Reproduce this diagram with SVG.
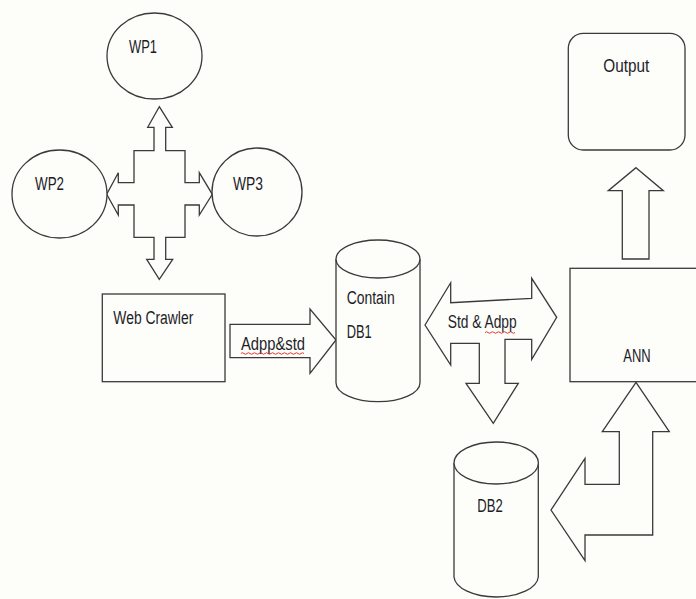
<svg xmlns="http://www.w3.org/2000/svg" width="696" height="599" viewBox="0 0 696 599">
<style>
.s{fill:#fdfdfa;stroke:#3a3a3a;stroke-width:1.3;stroke-linejoin:miter}
.t{font-family:"Liberation Sans",Arial,sans-serif;font-size:18px;fill:#1c1c28}
.w{fill:none;stroke:#e02020;stroke-width:0.9}
</style>
<rect width="696" height="599" fill="#fdfdfa"/>
<g id="connectors">
<path class="s" d="M159.3,106.7 L172.3,127.3 L165.7,127.3 L165.7,150.7 L185,150.7 L185,182.7 L199.3,182.7 L199.3,172.7 L212.3,194.3 L199.3,215 L199.3,205 L185,205 L185,237.3 L165.7,237.3 L165.7,259.3 L172.7,259.3 L159.3,279.3 L146.7,259.3 L154,259.3 L154,237.3 L134,237.3 L134,205 L118.3,205 L118.3,215 L106.7,194.3 L118.3,172.7 L118.3,182.7 L134,182.7 L134,150.7 L154,150.7 L154,127.3 L147.7,127.3 Z"/>
<path class="s" d="M230,324.3 L310,324.3 L310,309 L336,340 L310,373.3 L310,357.7 L230,357.7 Z"/>
<path class="s" d="M425,325 L450.7,282.7 L450.7,302.7 L531.7,298.3 L531.7,278.3 L556.7,317.3 L531.7,359.3 L531.7,339.3 L505,339.3 L505,383.3 L518.3,383.3 L493.3,423.3 L466,383.3 L479.3,383.3 L479.3,343.3 L450.7,343.3 L450.7,365 Z"/>
<path class="s" d="M636,167.7 L663.3,190.7 L649,190.7 L649,259 L622.3,259 L622.3,190.7 L608.3,190.7 Z"/>
<path class="s" d="M636,382.3 L669.3,431.7 L652.7,431.7 L652.7,535 L585,535 L585,560.7 L551,510 L585,458.3 L585,484.3 L619.3,484.3 L619.3,431.7 L602.3,431.7 Z"/>
<text class="t" x="241" y="350" textLength="64" lengthAdjust="spacingAndGlyphs">Adpp&amp;std</text>
<path class="w" d="M241,353.5 q1.5,-1.5 3,0 t3,0 t3,0 t3,0 t3,0 t3,0 t3,0 t3,0 t3,0 t3,0 t3,0 t3,0 t3,0 t3,0 t3,0 t3,0 t3,0 t3,0 t3,0 t3,0 t3,0"/>
<text class="t" x="447.7" y="328.3" textLength="69" lengthAdjust="spacingAndGlyphs">Std &amp; Adpp</text>
<path class="w" d="M485,332.5 q1.5,-1.5 3,0 t3,0 t3,0 t3,0 t3,0 t3,0 t3,0 t3,0 t3,0 t3,0"/>
</g>
<g id="wp1">
<ellipse class="s" cx="154.5" cy="56" rx="47.5" ry="43"/>
<text class="t" x="129" y="53" textLength="28" lengthAdjust="spacingAndGlyphs">WP1</text>
</g>
<g id="wp2">
<ellipse class="s" cx="59.5" cy="194" rx="47.5" ry="44"/>
<text class="t" x="35" y="190" textLength="29" lengthAdjust="spacingAndGlyphs">WP2</text>
</g>
<g id="wp3">
<ellipse class="s" cx="257" cy="192" rx="45" ry="44"/>
<text class="t" x="233" y="190" textLength="30" lengthAdjust="spacingAndGlyphs">WP3</text>
</g>
<g id="webcrawler">
<rect class="s" x="102.3" y="294" width="122.7" height="87.7"/>
<text class="t" x="113.3" y="324.3" textLength="80" lengthAdjust="spacingAndGlyphs">Web Crawler</text>
</g>
<g id="db1">
<path class="s" d="M336,259 L336,382.7 A42,19 0 0 0 420,382.7 L420,259"/>
<ellipse class="s" cx="378" cy="259" rx="42" ry="19"/>
<text class="t" x="346.7" y="304" textLength="48" lengthAdjust="spacingAndGlyphs">Contain</text>
<text class="t" x="346.7" y="337.7" textLength="25" lengthAdjust="spacingAndGlyphs">DB1</text>
</g>
<g id="db2">
<path class="s" d="M454,463 L454,577 A42.2,21 0 0 0 538.3,577 L538.3,463"/>
<ellipse class="s" cx="496.2" cy="463" rx="42.2" ry="21"/>
<text class="t" x="477.3" y="511.7" textLength="25.4" lengthAdjust="spacingAndGlyphs">DB2</text>
</g>
<g id="ann">
<rect class="s" x="570" y="268.3" width="130" height="113.4"/>
<text class="t" x="623.3" y="361.7" textLength="27.4" lengthAdjust="spacingAndGlyphs">ANN</text>
</g>
<g id="output">
<rect class="s" x="568.3" y="33.3" width="116.7" height="116.7" rx="15" ry="15"/>
<text class="t" x="603.3" y="71.7" textLength="46" lengthAdjust="spacingAndGlyphs">Output</text>
</g>
</svg>
